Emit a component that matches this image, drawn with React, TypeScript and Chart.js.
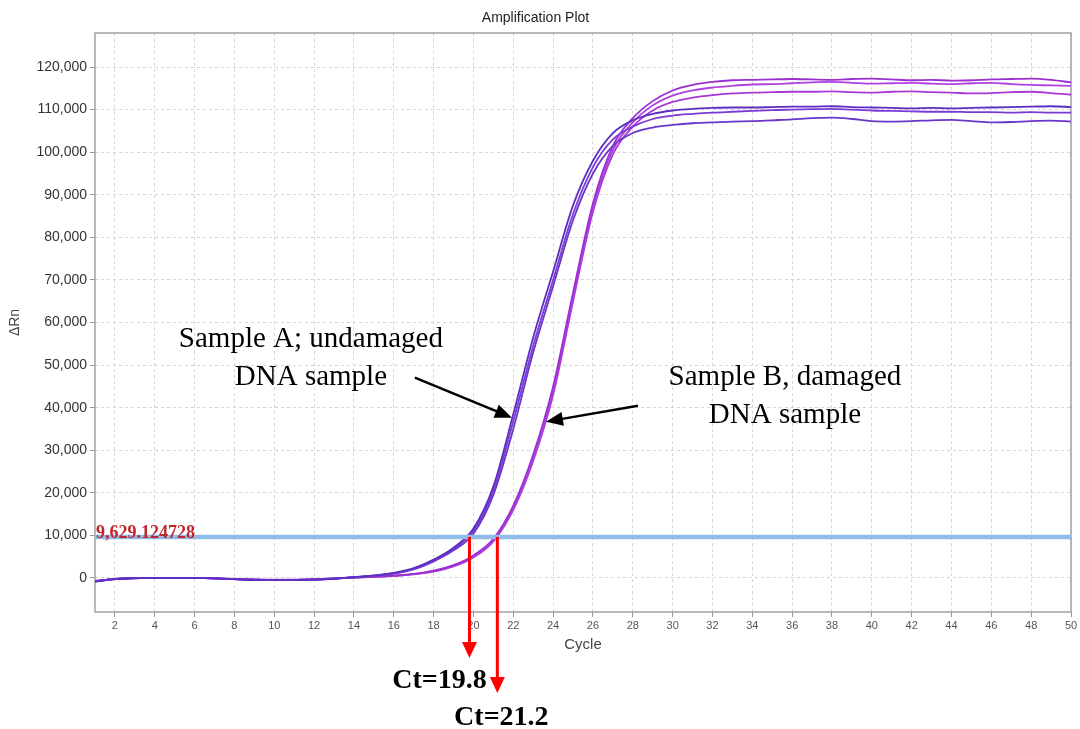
import React, { useEffect, useRef } from 'react';
import { Chart, registerables } from 'chart.js';

Chart.register(...registerables);

// ---------- data ----------
const cycles = [1, 2, 3, 4, 5, 6, 7, 8, 9, 10, 11, 12, 13, 14, 15, 16, 17, 18, 19, 20, 21, 22, 23, 24, 25, 26, 27, 28, 29, 30, 31, 32, 33, 34, 35, 36, 37, 38, 39, 40, 41, 42, 43, 44, 45, 46, 47, 48, 49, 50];

// Sample A (undamaged DNA) replicates
const sampleA1 = [-900, -300, -100, 0, 0, 0, -100, -300, -500, -500, -500, -400, -200, 200, 600, 1200, 2300, 4300, 7100, 11600, 21500, 38500, 56500, 72000, 87500, 98000, 104500, 107500, 109000, 109800, 110200, 110400, 110500, 110500, 110600, 110700, 110700, 110800, 110600, 110500, 110400, 110300, 110400, 110300, 110400, 110500, 110600, 110700, 110800, 110600];
const sampleA2 = [-800, -250, -50, 0, 0, 0, -100, -300, -450, -500, -500, -400, -150, 200, 550, 1100, 2200, 4100, 6800, 11000, 20500, 36800, 54500, 70000, 85500, 96500, 103000, 106000, 107800, 108600, 109000, 109300, 109500, 109700, 109900, 110000, 110100, 110200, 110000, 109800, 109700, 109600, 109500, 109500, 109400, 109400, 109300, 109400, 109300, 109300];
const sampleA3 = [-700, -200, 0, 0, 0, 0, -100, -250, -400, -450, -450, -350, -100, 150, 500, 1000, 2000, 3900, 6500, 10400, 19500, 35000, 53000, 68500, 84000, 95000, 101500, 104500, 105800, 106400, 106800, 107000, 107200, 107300, 107500, 107700, 108000, 108100, 107800, 107300, 107200, 107300, 107500, 107600, 107300, 107000, 107100, 107300, 107400, 107200];

// Sample B (damaged DNA) replicates
const sampleB1 = [-800, -300, -100, 0, 0, 0, -100, -250, -400, -450, -450, -350, -150, 100, 300, 550, 950, 1700, 3000, 5300, 9200, 17000, 29000, 45000, 67000, 88000, 101500, 108000, 112000, 114500, 115800, 116500, 116900, 117000, 117100, 117200, 117100, 117000, 117200, 117300, 117100, 116900, 117000, 116800, 116900, 117100, 117200, 117300, 117000, 116400];
const sampleB2 = [-750, -250, -50, 0, 0, 0, -100, -250, -400, -450, -450, -350, -150, 100, 280, 520, 900, 1600, 2900, 5100, 8900, 16500, 28000, 44000, 66000, 87000, 100500, 107000, 111000, 113300, 114500, 115200, 115600, 115900, 116000, 116200, 116400, 116500, 116300, 116100, 116200, 116300, 116100, 116000, 116200, 116300, 116000, 115800, 115700, 115600];
const sampleB3 = [-700, -200, 0, 0, 0, 0, -100, -250, -350, -400, -400, -300, -100, 100, 250, 480, 850, 1500, 2700, 4800, 8600, 16000, 27500, 43000, 65000, 86000, 99500, 106000, 109800, 111800, 112800, 113400, 113800, 114000, 114100, 114200, 114200, 114300, 114100, 114000, 114200, 114300, 114100, 114000, 113800, 113900, 114100, 114200, 113900, 113500];

const threshold = 9629.124728;
const thresholdLabel = '9,629.124728';
const ctValues = [19.8, 21.2];
const ctLabels = ['Ct=19.8', 'Ct=21.2'];

const xTicks = [2, 4, 6, 8, 10, 12, 14, 16, 18, 20, 22, 24, 26, 28, 30, 32, 34, 36, 38, 40, 42, 44, 46, 48, 50];
const yTicks = [0, 10000, 20000, 30000, 40000, 50000, 60000, 70000, 80000, 90000, 100000, 110000, 120000];

const noteALines = ['Sample A; undamaged', 'DNA sample'];
const noteBLines = ['Sample B, damaged', 'DNA sample'];
// anchors in data units (cycle, ΔRn)
const noteAAnchor = { x: 11.84, y: 54350 };
const noteBAnchor = { x: 35.64, y: 45400 };
const arrowAFrom = { x: 17.06, y: 47060 };
const arrowATo = { x: 21.93, y: 37650 };
const arrowBFrom = { x: 28.26, y: 40470 };
const arrowBTo = { x: 23.64, y: 36700 };

const SERIF = "'Liberation Serif', 'Times New Roman', serif";
const SANS = "'Liberation Sans', Arial, sans-serif";

function toPoints(values: number[]) {
  return cycles.map((c, i) => ({ x: c, y: values[i] }));
}

function drawArrow(ctx: CanvasRenderingContext2D, x1: number, y1: number, x2: number, y2: number, color: string, lw: number, len: number, w: number) {
  const ang = Math.atan2(y2 - y1, x2 - x1);
  const c = Math.cos(ang);
  const s = Math.sin(ang);
  ctx.strokeStyle = color;
  ctx.fillStyle = color;
  ctx.lineWidth = lw;
  ctx.beginPath();
  ctx.moveTo(x1, y1);
  ctx.lineTo(x2 - (len - 2) * c, y2 - (len - 2) * s);
  ctx.stroke();
  ctx.beginPath();
  ctx.moveTo(x2, y2);
  ctx.lineTo(x2 - len * c + (w / 2) * s, y2 - len * s - (w / 2) * c);
  ctx.lineTo(x2 - len * c - (w / 2) * s, y2 - len * s + (w / 2) * c);
  ctx.closePath();
  ctx.fill();
}

const frame = {
  id: 'frame',
  beforeDatasetsDraw(chart: any) {
    const { ctx, chartArea } = chart;
    ctx.save();
    ctx.strokeStyle = '#a2a2a2';
    ctx.lineWidth = 1.5;
    ctx.strokeRect(chartArea.left, chartArea.top, chartArea.right - chartArea.left, chartArea.bottom - chartArea.top);
    ctx.restore();
  },
};

const annotations = {
  id: 'annotations',
  afterDraw(chart: any) {
    const { ctx, chartArea } = chart;
    const xs = chart.scales.x;
    const ys = chart.scales.y;
    ctx.save();
    const ty = ys.getPixelForValue(threshold);

    // threshold label
    ctx.font = `bold 18px ${SERIF}`;
    ctx.fillStyle = '#c0272d';
    ctx.textAlign = 'left';
    ctx.textBaseline = 'alphabetic';
    ctx.fillText(thresholdLabel, chartArea.left + 1, ty + 1);

    // Ct arrows
    const drops = [46, 81];
    const textDx = [-30, 4];
    const textDy = [76, 113];
    ctValues.forEach((ct, i) => {
      const px = xs.getPixelForValue(ct);
      drawArrow(ctx, px, ty, px, chartArea.bottom + drops[i], '#ff0000', 3, 16, 15);
      ctx.font = `bold 28px ${SERIF}`;
      ctx.fillStyle = '#000';
      ctx.textAlign = 'center';
      ctx.fillText(ctLabels[i], px + textDx[i], chartArea.bottom + textDy[i]);
    });

    // notes
    ctx.font = `29px ${SERIF}`;
    ctx.fillStyle = '#000';
    ctx.textAlign = 'center';
    const drawNote = (lines: string[], anchor: { x: number; y: number }) => {
      const ax = xs.getPixelForValue(anchor.x);
      const ay = ys.getPixelForValue(anchor.y);
      lines.forEach((t, i) => ctx.fillText(t, ax, ay + i * 38));
    };
    drawNote(noteALines, noteAAnchor);
    drawNote(noteBLines, noteBAnchor);

    drawArrow(ctx, xs.getPixelForValue(arrowAFrom.x), ys.getPixelForValue(arrowAFrom.y), xs.getPixelForValue(arrowATo.x), ys.getPixelForValue(arrowATo.y), '#000', 2.5, 17, 14);
    drawArrow(ctx, xs.getPixelForValue(arrowBFrom.x), ys.getPixelForValue(arrowBFrom.y), xs.getPixelForValue(arrowBTo.x), ys.getPixelForValue(arrowBTo.y), '#000', 2.5, 17, 14);
    ctx.restore();
  },
};

export default function App() {
  const ref = useRef<HTMLCanvasElement | null>(null);

  useEffect(() => {
    if (!ref.current) return;
    const line = (label: string, values: number[], color: string) => ({
      label,
      data: toPoints(values),
      borderColor: color,
      backgroundColor: color,
      borderWidth: 1.8,
      pointRadius: 0,
      cubicInterpolationMode: 'monotone' as const,
      fill: false,
    });
    const chart = new Chart(ref.current, {
      type: 'line',
      data: {
        datasets: [
          {
            label: 'Threshold',
            data: [{ x: 1, y: threshold }, { x: 50, y: threshold }],
            borderColor: '#8fbce8',
            borderWidth: 4.5,
            pointRadius: 0,
            fill: false,
          },
          line('Sample A 1', sampleA1, '#5b2fc0'),
          line('Sample A 2', sampleA2, '#7a3ad6'),
          line('Sample A 3', sampleA3, '#6a35c8'),
          line('Sample B 1', sampleB1, '#9b30d0'),
          line('Sample B 2', sampleB2, '#b040e0'),
          line('Sample B 3', sampleB3, '#a838d8'),
        ],
      },
      options: {
        responsive: false,
        animation: false,
        layout: { padding: { left: 0, right: 9, top: 0, bottom: 0 } },
        plugins: {
          legend: { display: false },
          tooltip: { enabled: false },
          title: {
            display: true,
            text: 'Amplification Plot',
            color: '#222',
            font: { family: SANS, size: 14, weight: 'normal' },
            padding: { top: 9.6, bottom: 6.6 },
          },
        },
        scales: {
          x: {
            type: 'linear',
            min: 1,
            max: 50,
            afterBuildTicks: (s: any) => {
              s.ticks = xTicks.map((v) => ({ value: v }));
            },
            afterFit: (s: any) => {
              s.height = 117;
            },
            ticks: {
              color: '#555',
              font: { family: SANS, size: 11 },
              padding: 2,
              maxRotation: 0,
              autoSkip: false,
            },
            grid: { color: '#d6d6d6', tickColor: '#999', tickLength: 5, lineWidth: 1 },
            border: { display: false, dash: [3, 3] },
            title: {
              display: true,
              text: 'Cycle',
              color: '#444',
              font: { family: SANS, size: 15 },
              padding: { top: 4, bottom: 75 },
            },
          },
          y: {
            type: 'linear',
            min: -8000,
            max: 128000,
            afterBuildTicks: (s: any) => {
              s.ticks = yTicks.map((v) => ({ value: v }));
            },
            afterFit: (s: any) => {
              s.width = 95;
            },
            ticks: {
              color: '#333',
              font: { family: SANS, size: 14 },
              padding: 3,
              callback: (v: any) => Number(v).toLocaleString('en-US'),
            },
            grid: { color: '#d6d6d6', tickColor: '#999', tickLength: 5, lineWidth: 1 },
            border: { display: false, dash: [3, 3] },
            title: {
              display: true,
              text: 'ΔRn',
              color: '#444',
              font: { family: SANS, size: 14 },
              padding: { top: 7, bottom: 0 },
            },
          },
        },
      },
      plugins: [frame, annotations],
    } as any);
    return () => chart.destroy();
  }, []);

  return (
    <div style={{ position: 'fixed', left: 0, top: 0, width: 1080, height: 729, background: '#fff' }}>
      <canvas ref={ref} width={1080} height={729} style={{ width: 1080, height: 729, display: 'block' }} />
    </div>
  );
}
